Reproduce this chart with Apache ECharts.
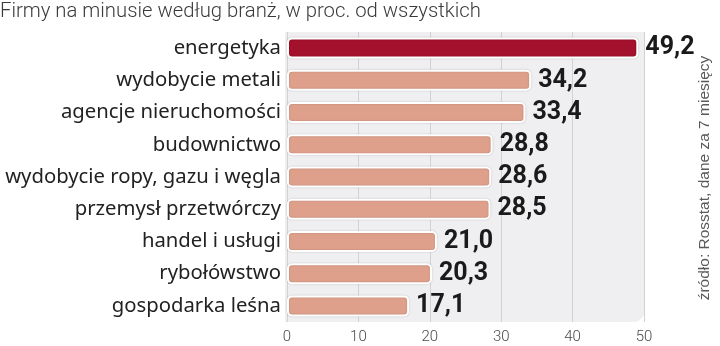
<!DOCTYPE html>
<html>
<head>
<meta charset="utf-8">
<script src="https://cdn.jsdelivr.net/npm/echarts@6/dist/echarts.min.js"></script>
<style>
  html, body { margin: 0; padding: 0; background: #ffffff; }
  #chart { width: 720px; height: 346px; }
</style>
</head>
<body>
<div id="chart"></div>
<script>
// Branches, top to bottom
const categories = [
  'energetyka',
  'wydobycie metali',
  'agencje nieruchomości',
  'budownictwo',
  'wydobycie ropy, gazu i węgla',
  'przemysł przetwórczy',
  'handel i usługi',
  'rybołówstwo',
  'gospodarka leśna'
];
// Share of loss-making firms, %
const values = [49.2, 34.2, 33.4, 28.8, 28.6, 28.5, 21.0, 20.3, 17.1];
const axisTicks = [0, 10, 20, 30, 40, 50];

const titleText = 'Firmy na minusie według branż, w proc. od wszystkich';
const sourceText = 'źródło: Rosstat, dane za 7 miesięcy';

const GRID = { left: 287, right: 76, top: 32, bottom: 24 };
const W = 720, H = 346;

const chart = echarts.init(document.getElementById('chart'), null, { renderer: 'canvas' });

chart.setOption({
  animation: false,
  backgroundColor: '#ffffff',
  title: {
    text: titleText,
    left: 0,
    top: 2,
    padding: [0, 0, 0, 0],
    textStyle: { fontFamily: 'Roboto', fontWeight: 300, fontSize: 20.3, color: '#3a3a3a' }
  },
  graphic: [
    {
      type: 'rect',
      z: -1,
      shape: {
        x: GRID.left - 2,
        y: GRID.top,
        width: W - GRID.left - GRID.right + 3,
        height: H - GRID.top - GRID.bottom,
        r: [0, 0, 12, 0]
      },
      style: { fill: '#efeff1' }
    },
    {
      type: 'text',
      rotation: Math.PI / 2,
      x: 705,
      y: 178,
      style: {
        text: sourceText,
        fill: '#5a5a5a',
        font: '15.5px "Liberation Sans", Arial, sans-serif',
        align: 'center',
        verticalAlign: 'middle'
      }
    }
  ],
  grid: Object.assign({ containLabel: false }, GRID),
  xAxis: {
    type: 'value',
    min: axisTicks[0],
    max: axisTicks[axisTicks.length - 1],
    interval: 10,
    axisLine: { show: false },
    axisTick: { show: false },
    splitLine: { show: true, lineStyle: { color: '#d2d2d6', width: 1 } },
    axisLabel: {
      margin: 8,
      fontFamily: 'Roboto',
      fontWeight: 300,
      fontSize: 15,
      color: '#4a4a4a',
      formatter: v => axisTicks.includes(v) ? String(v) : ''
    }
  },
  yAxis: {
    type: 'category',
    data: categories,
    inverse: true,
    axisLine: { show: false },
    axisTick: { show: false },
    splitLine: { show: false },
    axisLabel: {
      margin: 6,
      fontFamily: '"Noto Sans", sans-serif',
      fontSize: 20.3,
      color: '#222222'
    }
  },
  series: [{
    type: 'bar',
    data: values.map((v, i) => ({
      value: v,
      itemStyle: { color: i === 0 ? '#a3112c' : '#dea08b' }
    })),
    barWidth: 21,
    itemStyle: {
      borderColor: '#ffffff',
      borderWidth: 2,
      borderRadius: 4,
      shadowColor: 'rgba(0,0,0,0.18)',
      shadowBlur: 2
    },
    label: {
      show: true,
      position: 'right',
      distance: 7,
      fontFamily: 'Roboto',
      fontWeight: 'bold',
      fontSize: 25,
      color: '#1a1a1a',
      formatter: p => p.value.toFixed(1).replace('.', ',')
    }
  }]
});
</script>
</body>
</html>
